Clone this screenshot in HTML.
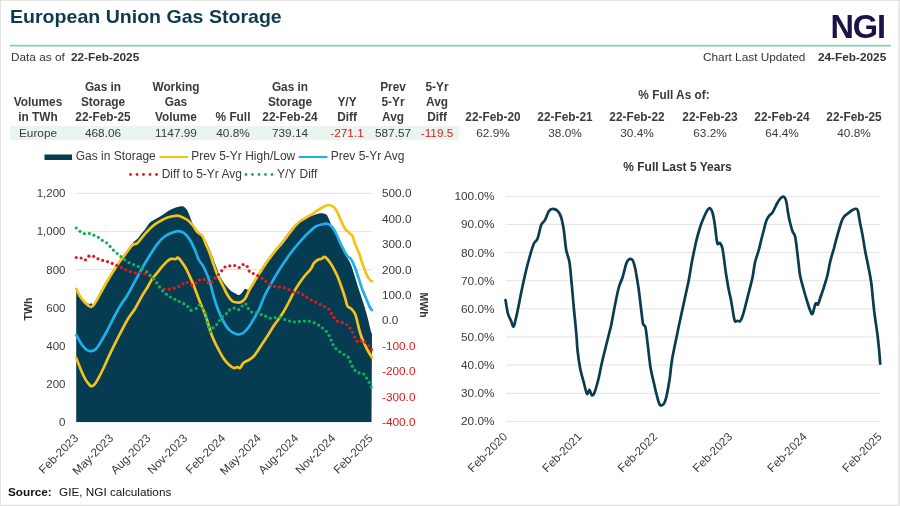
<!DOCTYPE html>
<html><head><meta charset="utf-8"><title>European Union Gas Storage</title>
<style>
html,body{margin:0;padding:0;background:#fff;}
body{width:900px;height:506px;position:relative;overflow:hidden;font-family:"Liberation Sans",Arial,sans-serif;color:#333;}
.t{position:absolute;white-space:nowrap;line-height:1;}
.c{transform:translateX(-50%);text-align:center;}
.b{font-weight:bold;}
.h{font-size:11.85px;font-weight:bold;color:#3a3a3a;line-height:15px;}
.v{font-size:11.8px;color:#3a3a3a;}
.red{color:#e02020;}
#title{left:10px;top:7.7px;font-size:18.6px;transform:scaleX(1.052);transform-origin:0 0;font-weight:bold;color:#0e3a4d;}
#band{position:absolute;left:10px;top:125.5px;width:449px;height:14px;background:#e9f5ee;}
svg{position:absolute;left:0;top:0;}
</style></head><body>
<div id="title" class="t">European Union Gas Storage</div>
<div id="logo" class="t" style="left:830.5px;top:10.8px;font-size:32.5px;font-weight:bold;color:#1a1446;letter-spacing:-1.1px;">NGI</div>
<div class="t" style="left:11px;top:52.1px;font-size:11.8px;">Data as of</div>
<div class="t b" style="left:71px;top:52.1px;font-size:11.8px;">22-Feb-2025</div>
<div class="t" style="left:703px;top:52.1px;font-size:11.8px;">Chart Last Updated</div>
<div class="t b" style="left:818px;top:52.1px;font-size:11.8px;">24-Feb-2025</div>
<div id="band"></div>

<div class="t c h" style="left:38px;top:94.75px;">Volumes<br>in TWh</div>
<div class="t c h" style="left:103px;top:79.75px;">Gas in<br>Storage<br>22-Feb-25</div>
<div class="t c h" style="left:176px;top:79.75px;">Working<br>Gas<br>Volume</div>
<div class="t c h" style="left:233px;top:109.75px;">% Full</div>
<div class="t c h" style="left:290px;top:79.75px;">Gas in<br>Storage<br>22-Feb-24</div>
<div class="t c h" style="left:347px;top:94.75px;">Y/Y<br>Diff</div>
<div class="t c h" style="left:393px;top:79.75px;">Prev<br>5-Yr<br>Avg</div>
<div class="t c h" style="left:437px;top:79.75px;">5-Yr<br>Avg<br>Diff</div>
<div class="t c h" style="left:674px;top:87.75px;">% Full As of:</div>
<div class="t c h" style="left:493px;top:109.75px;">22-Feb-20</div>
<div class="t c h" style="left:565px;top:109.75px;">22-Feb-21</div>
<div class="t c h" style="left:637px;top:109.75px;">22-Feb-22</div>
<div class="t c h" style="left:710px;top:109.75px;">22-Feb-23</div>
<div class="t c h" style="left:782px;top:109.75px;">22-Feb-24</div>
<div class="t c h" style="left:854px;top:109.75px;">22-Feb-25</div>

<div class="t c v" style="left:38px;top:127.5px;">Europe</div>
<div class="t c v" style="left:103px;top:127.5px;">468.06</div>
<div class="t c v" style="left:176px;top:127.5px;">1147.99</div>
<div class="t c v" style="left:233px;top:127.5px;">40.8%</div>
<div class="t c v" style="left:290px;top:127.5px;">739.14</div>
<div class="t c v red" style="left:347px;top:127.5px;">-271.1</div>
<div class="t c v" style="left:393px;top:127.5px;">587.57</div>
<div class="t c v red" style="left:437px;top:127.5px;">-119.5</div>
<div class="t c v" style="left:493px;top:127.5px;">62.9%</div>
<div class="t c v" style="left:565px;top:127.5px;">38.0%</div>
<div class="t c v" style="left:637px;top:127.5px;">30.4%</div>
<div class="t c v" style="left:710px;top:127.5px;">63.2%</div>
<div class="t c v" style="left:782px;top:127.5px;">64.4%</div>
<div class="t c v" style="left:854px;top:127.5px;">40.8%</div>

<div class="t b" style="left:8px;top:485.8px;font-size:11.75px;color:#111;">Source:</div>
<div class="t" style="left:59px;top:485.8px;font-size:11.75px;color:#111;">GIE, NGI calculations</div>

<svg id="chart" width="900" height="506" viewBox="0 0 900 506" font-family="Liberation Sans, Arial, sans-serif">
<g fill="#e3e3e3"><rect x="0" y="0" width="900" height="0.9"/><rect x="0" y="0" width="1" height="506"/><rect x="898.4" y="0" width="1.6" height="506"/><rect x="0" y="504.7" width="900" height="1.3"/></g>
<rect x="10" y="44.8" width="881" height="1.7" fill="#7fd0ac"/>
<line x1="76.0" x2="372.0" y1="193.3" y2="193.3" stroke="#e3e3e3" stroke-width="1"/>
<line x1="76.0" x2="372.0" y1="231.4" y2="231.4" stroke="#e3e3e3" stroke-width="1"/>
<line x1="76.0" x2="372.0" y1="269.5" y2="269.5" stroke="#e3e3e3" stroke-width="1"/>
<line x1="76.0" x2="372.0" y1="307.6" y2="307.6" stroke="#e3e3e3" stroke-width="1"/>
<line x1="76.0" x2="372.0" y1="345.7" y2="345.7" stroke="#e3e3e3" stroke-width="1"/>
<line x1="76.0" x2="372.0" y1="383.8" y2="383.8" stroke="#e3e3e3" stroke-width="1"/>
<line x1="76.0" x2="372.0" y1="421.9" y2="421.9" stroke="#e3e3e3" stroke-width="1"/>
<path d="M76.2,288.0 C76.9,289.2 78.5,293.2 80.0,295.5 C81.5,297.8 83.4,300.1 85.0,301.5 C86.6,302.9 88.5,303.8 89.5,304.0 C90.5,304.2 90.7,302.8 91.2,303.0 C91.8,303.2 92.4,305.7 93.0,305.5 C93.6,305.3 94.2,303.2 95.0,302.0 C95.8,300.8 95.8,301.0 97.5,298.0 C99.2,295.0 102.5,288.6 105.0,284.2 C107.5,279.9 110.0,275.7 112.5,271.8 C115.0,267.8 117.5,264.1 120.0,260.5 C122.5,256.9 125.4,252.9 127.5,250.0 C129.6,247.1 130.8,244.9 132.5,243.0 C134.2,241.1 136.0,240.3 137.5,238.8 C139.0,237.2 140.0,235.3 141.2,233.8 C142.5,232.2 143.5,231.4 145.0,229.5 C146.5,227.6 148.1,224.3 150.0,222.5 C151.9,220.7 154.2,220.0 156.2,218.8 C158.3,217.5 160.2,216.5 162.5,215.0 C164.8,213.5 167.5,211.3 170.0,210.0 C172.5,208.7 175.4,207.6 177.5,207.0 C179.6,206.4 181.0,206.0 182.5,206.2 C184.0,206.5 185.2,207.5 186.2,208.8 C187.3,210.0 187.9,211.9 188.8,213.8 C189.6,215.6 190.2,217.5 191.2,220.0 C192.3,222.5 193.8,226.8 195.0,228.8 C196.2,230.8 197.5,231.0 198.8,232.0 C200.0,233.0 201.2,233.2 202.5,235.0 C203.8,236.8 205.4,240.3 206.8,243.0 C208.1,245.7 209.2,248.2 210.5,251.2 C211.8,254.3 213.0,257.9 214.2,261.2 C215.5,264.6 217.0,268.5 218.0,271.2 C219.0,274.0 219.2,275.2 220.5,277.5 C221.8,279.8 223.8,282.8 225.5,285.0 C227.2,287.2 228.9,289.1 230.5,290.5 C232.1,291.9 233.5,292.5 235.0,293.2 C236.5,294.0 238.0,295.2 239.2,295.0 C240.5,294.8 241.5,293.0 242.5,292.0 C243.5,291.0 244.0,289.2 245.0,288.8 C246.0,288.3 247.5,290.5 248.8,289.5 C250.0,288.5 250.8,286.0 252.5,283.0 C254.2,280.0 256.9,275.5 259.2,271.8 C261.6,268.0 264.2,264.0 266.8,260.5 C269.2,257.0 271.8,253.7 274.2,250.5 C276.8,247.3 279.2,244.7 281.8,241.5 C284.2,238.3 287.0,234.3 289.2,231.5 C291.5,228.7 292.8,226.5 295.0,224.5 C297.2,222.5 300.0,220.8 302.5,219.5 C305.0,218.2 307.7,217.4 310.0,216.5 C312.3,215.6 314.4,214.8 316.2,214.2 C318.1,213.7 319.6,213.2 321.2,213.2 C322.9,213.3 325.0,213.6 326.2,214.5 C327.5,215.4 327.9,217.0 328.8,218.8 C329.6,220.5 330.4,223.3 331.2,225.0 C332.1,226.7 332.9,227.3 333.8,228.8 C334.6,230.2 335.4,231.7 336.2,233.8 C337.1,235.8 337.7,238.8 338.8,241.2 C339.8,243.8 341.2,246.2 342.5,248.8 C343.8,251.2 345.0,254.0 346.2,256.2 C347.5,258.5 348.7,259.6 350.0,262.5 C351.3,265.4 352.6,269.4 354.0,273.7 C355.4,278.0 357.0,283.8 358.5,288.5 C360.0,293.2 361.5,297.2 363.0,301.9 C364.5,306.6 366.1,311.8 367.4,316.7 C368.7,321.6 370.2,328.7 371.0,331.5 C371.8,334.3 371.8,333.4 372.0,333.8 L371.5,421.9 L76.2,421.9 Z" fill="#063c52"/>
<path d="M76.2,288.8 C76.9,290.0 78.5,294.0 80.0,296.2 C81.5,298.5 83.1,300.7 85.0,302.5 C86.9,304.3 89.6,306.9 91.2,307.0 C92.9,307.1 94.0,304.4 95.0,303.0 C96.0,301.6 95.8,301.8 97.5,298.8 C99.2,295.8 102.5,289.4 105.0,285.0 C107.5,280.6 110.0,276.5 112.5,272.5 C115.0,268.5 117.5,264.8 120.0,261.2 C122.5,257.7 125.4,254.0 127.5,251.2 C129.6,248.5 130.8,246.4 132.5,245.0 C134.2,243.6 135.4,244.9 137.5,243.0 C139.6,241.1 142.5,236.5 145.0,233.8 C147.5,231.0 150.0,228.3 152.5,226.2 C155.0,224.2 157.5,222.7 160.0,221.2 C162.5,219.8 165.0,218.4 167.5,217.5 C170.0,216.6 172.9,216.0 175.0,215.8 C177.1,215.5 177.9,215.5 180.0,216.2 C182.1,217.0 185.4,218.5 187.5,220.0 C189.6,221.5 190.8,223.0 192.5,225.0 C194.2,227.0 195.8,230.1 197.5,232.0 C199.2,233.9 201.0,234.1 202.5,236.2 C204.0,238.4 205.0,242.1 206.2,245.0 C207.5,247.9 208.8,250.4 210.0,253.8 C211.2,257.1 212.5,261.5 213.8,265.0 C215.0,268.5 216.0,271.7 217.5,275.0 C219.0,278.3 220.8,281.7 222.5,285.0 C224.2,288.3 225.8,292.3 227.5,295.0 C229.2,297.7 230.8,300.0 232.5,301.2 C234.2,302.5 236.0,302.4 237.5,302.5 C239.0,302.6 240.0,302.6 241.2,302.0 C242.5,301.4 243.8,300.5 245.0,298.8 C246.2,297.0 247.3,294.0 248.8,291.2 C250.2,288.5 251.9,285.6 253.8,282.5 C255.6,279.4 257.7,276.0 260.0,272.5 C262.3,269.0 265.0,264.8 267.5,261.2 C270.0,257.7 272.5,254.4 275.0,251.2 C277.5,248.1 280.0,245.6 282.5,242.5 C285.0,239.4 287.9,235.2 290.0,232.5 C292.1,229.8 293.3,228.1 295.0,226.2 C296.7,224.4 298.1,222.7 300.0,221.2 C301.9,219.8 304.2,218.8 306.2,217.5 C308.3,216.2 310.4,215.1 312.5,213.8 C314.6,212.4 316.7,210.8 318.8,209.5 C320.8,208.2 323.3,207.0 325.0,206.2 C326.7,205.5 327.3,204.9 328.8,205.0 C330.2,205.1 332.3,205.8 333.8,207.0 C335.2,208.2 336.2,210.1 337.5,212.5 C338.8,214.9 340.0,218.5 341.2,221.2 C342.5,224.0 343.8,226.9 345.0,228.8 C346.2,230.6 347.5,231.2 348.8,232.5 C350.0,233.8 351.5,234.4 352.5,236.2 C353.5,238.1 354.0,241.0 355.0,243.8 C356.0,246.5 357.5,249.2 358.8,252.5 C360.0,255.8 361.2,260.2 362.5,263.8 C363.8,267.3 365.0,271.0 366.2,273.8 C367.5,276.5 369.0,278.8 370.0,280.0 C371.0,281.2 371.7,281.0 372.0,281.2" fill="none" stroke="#f5c218" stroke-width="2.7" stroke-linejoin="round" stroke-linecap="round"/>
<path d="M76.2,358.0 C76.9,359.6 78.8,364.5 80.0,367.5 C81.2,370.5 82.5,373.8 83.8,376.2 C85.0,378.8 86.2,380.8 87.5,382.5 C88.8,384.2 90.0,386.0 91.2,386.2 C92.5,386.5 93.8,385.2 95.0,383.8 C96.2,382.3 97.3,380.2 98.8,377.5 C100.2,374.8 101.9,371.5 103.8,367.5 C105.6,363.5 107.9,358.1 110.0,353.8 C112.1,349.4 114.2,345.4 116.2,341.2 C118.3,337.1 120.4,332.7 122.5,328.8 C124.6,324.8 126.7,320.8 128.8,317.5 C130.8,314.2 132.8,312.4 135.0,308.8 C137.2,305.1 140.1,299.3 142.2,295.6 C144.3,291.9 146.1,289.5 147.8,286.7 C149.5,283.9 150.7,281.1 152.2,278.9 C153.7,276.7 155.1,275.2 156.7,273.3 C158.3,271.4 160.0,269.1 161.7,267.2 C163.4,265.3 165.1,263.1 166.7,261.7 C168.3,260.3 169.6,259.3 171.1,258.9 C172.6,258.5 174.5,259.3 175.6,259.1 C176.7,258.9 176.9,257.3 177.8,257.6 C178.7,257.9 179.8,259.4 181.1,261.1 C182.4,262.8 184.2,265.4 185.6,267.8 C187.0,270.2 188.1,272.8 189.4,275.6 C190.7,278.4 192.1,281.4 193.3,284.4 C194.5,287.3 195.6,290.4 196.7,293.3 C197.8,296.2 198.4,298.0 200.0,302.0 C201.6,306.0 204.6,312.8 206.2,317.5 C207.9,322.2 208.8,326.2 210.0,330.0 C211.2,333.8 212.3,336.7 213.8,340.0 C215.2,343.3 217.1,346.9 218.8,350.0 C220.4,353.1 222.1,356.3 223.8,358.8 C225.4,361.2 227.1,363.0 228.8,364.5 C230.4,366.0 232.3,367.6 233.8,368.0 C235.2,368.4 236.5,367.0 237.5,367.0 C238.5,367.0 239.0,368.8 240.0,368.0 C241.0,367.2 242.3,363.8 243.8,362.5 C245.2,361.2 247.1,361.0 248.8,360.0 C250.4,359.0 252.4,357.5 253.8,356.2 C255.1,355.0 255.1,354.6 256.7,352.3 C258.3,350.0 261.2,345.5 263.3,342.3 C265.4,339.1 267.2,336.2 269.2,333.2 C271.1,330.1 273.2,326.6 275.0,324.0 C276.8,321.4 278.5,319.5 280.0,317.3 C281.5,315.1 282.7,313.3 284.2,310.7 C285.7,308.1 287.7,304.4 289.2,301.5 C290.7,298.6 291.8,296.0 293.3,293.2 C294.8,290.4 296.5,287.6 298.3,284.8 C300.1,282.0 302.1,279.1 304.2,276.5 C306.3,273.9 309.2,271.2 310.8,269.0 C312.4,266.8 312.7,264.8 313.8,263.3 C314.9,261.8 316.2,260.8 317.5,260.0 C318.8,259.2 320.4,259.2 321.7,258.7 C322.9,258.2 323.6,256.4 325.0,257.0 C326.4,257.6 328.5,260.5 330.0,262.5 C331.5,264.5 332.5,266.5 333.8,268.8 C335.0,271.0 336.2,273.3 337.5,276.2 C338.8,279.2 340.0,282.7 341.2,286.2 C342.5,289.8 344.0,294.2 345.0,297.5 C346.0,300.8 346.5,304.4 347.5,306.2 C348.5,308.1 350.0,307.5 351.2,308.8 C352.5,310.0 354.0,311.5 355.0,313.8 C356.0,316.0 356.7,319.4 357.5,322.5 C358.3,325.6 359.0,329.2 360.0,332.5 C361.0,335.8 362.5,339.6 363.8,342.5 C365.0,345.4 366.1,347.5 367.5,350.0 C368.9,352.5 371.2,356.2 372.0,357.5" fill="none" stroke="#f5c218" stroke-width="2.7" stroke-linejoin="round" stroke-linecap="round"/>
<path d="M76.2,335.0 C77.1,336.5 79.6,341.3 81.2,343.8 C82.9,346.2 84.6,348.2 86.2,349.5 C87.9,350.8 89.6,351.4 91.2,351.2 C92.9,351.1 94.6,350.4 96.2,348.8 C97.9,347.1 99.4,344.4 101.2,341.2 C103.1,338.1 105.4,334.0 107.5,330.0 C109.6,326.0 111.7,321.5 113.8,317.5 C115.8,313.5 117.7,310.0 120.0,306.2 C122.3,302.5 125.0,299.2 127.5,295.0 C130.0,290.8 132.5,285.8 135.0,281.2 C137.5,276.7 140.0,271.9 142.5,267.5 C145.0,263.1 147.5,259.0 150.0,255.0 C152.5,251.0 155.0,246.9 157.5,243.8 C160.0,240.6 162.5,238.1 165.0,236.2 C167.5,234.4 170.2,233.3 172.5,232.5 C174.8,231.7 176.7,231.0 178.8,231.2 C180.8,231.5 183.1,232.3 185.0,233.8 C186.9,235.2 188.3,237.3 190.0,240.0 C191.7,242.7 193.5,246.7 195.0,250.0 C196.5,253.3 197.5,257.5 198.8,260.0 C200.0,262.5 201.2,262.9 202.5,265.0 C203.8,267.1 205.0,269.6 206.2,272.5 C207.5,275.4 208.7,278.4 210.0,282.5 C211.3,286.6 212.5,292.5 213.8,296.9 C215.1,301.3 216.2,305.0 217.8,309.0 C219.4,313.0 221.4,317.6 223.2,321.0 C225.0,324.4 227.0,327.5 228.8,329.5 C230.5,331.5 232.1,332.2 233.8,333.0 C235.4,333.8 237.1,334.6 238.8,334.5 C240.4,334.4 242.1,333.8 243.8,332.5 C245.4,331.2 247.1,329.3 248.8,327.0 C250.4,324.7 252.1,321.6 253.8,318.8 C255.4,315.9 256.9,314.0 258.8,310.0 C260.6,306.0 262.7,299.8 265.0,295.0 C267.3,290.2 270.0,285.6 272.5,281.2 C275.0,276.9 277.5,272.7 280.0,268.8 C282.5,264.8 285.0,261.0 287.5,257.5 C290.0,254.0 292.5,250.6 295.0,247.5 C297.5,244.4 300.0,241.5 302.5,238.8 C305.0,236.0 307.7,233.3 310.0,231.2 C312.3,229.2 314.2,227.4 316.2,226.2 C318.3,225.1 320.6,224.7 322.5,224.2 C324.4,223.8 325.8,223.2 327.5,223.8 C329.2,224.3 331.0,225.8 332.5,227.5 C334.0,229.2 335.0,231.2 336.2,233.8 C337.5,236.2 338.8,239.8 340.0,242.5 C341.2,245.2 342.5,247.7 343.8,250.0 C345.0,252.3 346.2,254.7 347.5,256.2 C348.8,257.8 350.0,257.6 351.2,259.5 C352.5,261.4 353.8,264.3 355.0,267.5 C356.2,270.7 357.5,275.0 358.8,278.8 C360.0,282.5 361.2,286.7 362.5,290.0 C363.8,293.3 365.0,295.8 366.2,298.8 C367.5,301.7 369.0,305.6 370.0,307.5 C371.0,309.4 371.7,309.6 372.0,310.0" fill="none" stroke="#1fb0ea" stroke-width="2.7" stroke-linejoin="round" stroke-linecap="round"/>
<circle cx="76.2" cy="257.5" r="1.6" fill="#e01a1a"/>
<circle cx="81.1" cy="258.0" r="1.6" fill="#e01a1a"/>
<circle cx="85.5" cy="259.8" r="1.6" fill="#e01a1a"/>
<circle cx="88.9" cy="256.2" r="1.6" fill="#e01a1a"/>
<circle cx="93.7" cy="256.3" r="1.6" fill="#e01a1a"/>
<circle cx="98.0" cy="258.8" r="1.6" fill="#e01a1a"/>
<circle cx="102.7" cy="260.4" r="1.6" fill="#e01a1a"/>
<circle cx="107.5" cy="261.7" r="1.6" fill="#e01a1a"/>
<circle cx="112.2" cy="263.4" r="1.6" fill="#e01a1a"/>
<circle cx="116.8" cy="265.3" r="1.6" fill="#e01a1a"/>
<circle cx="121.3" cy="267.5" r="1.6" fill="#e01a1a"/>
<circle cx="125.8" cy="269.8" r="1.6" fill="#e01a1a"/>
<circle cx="130.4" cy="271.7" r="1.6" fill="#e01a1a"/>
<circle cx="135.2" cy="273.0" r="1.6" fill="#e01a1a"/>
<circle cx="140.2" cy="273.0" r="1.6" fill="#e01a1a"/>
<circle cx="145.1" cy="273.8" r="1.6" fill="#e01a1a"/>
<circle cx="149.6" cy="276.0" r="1.6" fill="#e01a1a"/>
<circle cx="153.8" cy="278.8" r="1.6" fill="#e01a1a"/>
<circle cx="156.7" cy="282.8" r="1.6" fill="#e01a1a"/>
<circle cx="160.0" cy="286.5" r="1.6" fill="#e01a1a"/>
<circle cx="164.3" cy="289.0" r="1.6" fill="#e01a1a"/>
<circle cx="169.2" cy="289.2" r="1.6" fill="#e01a1a"/>
<circle cx="174.1" cy="288.2" r="1.6" fill="#e01a1a"/>
<circle cx="178.8" cy="286.4" r="1.6" fill="#e01a1a"/>
<circle cx="183.0" cy="283.8" r="1.6" fill="#e01a1a"/>
<circle cx="187.4" cy="282.4" r="1.6" fill="#e01a1a"/>
<circle cx="191.6" cy="285.1" r="1.6" fill="#e01a1a"/>
<circle cx="195.7" cy="283.1" r="1.6" fill="#e01a1a"/>
<circle cx="199.5" cy="279.9" r="1.6" fill="#e01a1a"/>
<circle cx="204.1" cy="279.4" r="1.6" fill="#e01a1a"/>
<circle cx="207.9" cy="282.7" r="1.6" fill="#e01a1a"/>
<circle cx="211.8" cy="282.1" r="1.6" fill="#e01a1a"/>
<circle cx="215.0" cy="278.2" r="1.6" fill="#e01a1a"/>
<circle cx="218.4" cy="274.5" r="1.6" fill="#e01a1a"/>
<circle cx="221.7" cy="270.8" r="1.6" fill="#e01a1a"/>
<circle cx="225.0" cy="267.0" r="1.6" fill="#e01a1a"/>
<circle cx="229.8" cy="265.8" r="1.6" fill="#e01a1a"/>
<circle cx="234.7" cy="265.5" r="1.6" fill="#e01a1a"/>
<circle cx="239.2" cy="267.5" r="1.6" fill="#e01a1a"/>
<circle cx="243.1" cy="264.5" r="1.6" fill="#e01a1a"/>
<circle cx="247.2" cy="266.5" r="1.6" fill="#e01a1a"/>
<circle cx="249.1" cy="271.1" r="1.6" fill="#e01a1a"/>
<circle cx="253.3" cy="273.5" r="1.6" fill="#e01a1a"/>
<circle cx="257.8" cy="275.7" r="1.6" fill="#e01a1a"/>
<circle cx="262.0" cy="278.3" r="1.6" fill="#e01a1a"/>
<circle cx="265.9" cy="281.4" r="1.6" fill="#e01a1a"/>
<circle cx="269.9" cy="284.5" r="1.6" fill="#e01a1a"/>
<circle cx="274.5" cy="286.4" r="1.6" fill="#e01a1a"/>
<circle cx="279.4" cy="287.1" r="1.6" fill="#e01a1a"/>
<circle cx="284.4" cy="287.7" r="1.6" fill="#e01a1a"/>
<circle cx="289.0" cy="289.6" r="1.6" fill="#e01a1a"/>
<circle cx="293.4" cy="291.9" r="1.6" fill="#e01a1a"/>
<circle cx="298.4" cy="292.4" r="1.6" fill="#e01a1a"/>
<circle cx="302.9" cy="294.5" r="1.6" fill="#e01a1a"/>
<circle cx="306.9" cy="297.4" r="1.6" fill="#e01a1a"/>
<circle cx="311.2" cy="300.0" r="1.6" fill="#e01a1a"/>
<circle cx="315.7" cy="302.2" r="1.6" fill="#e01a1a"/>
<circle cx="320.1" cy="304.4" r="1.6" fill="#e01a1a"/>
<circle cx="324.6" cy="306.6" r="1.6" fill="#e01a1a"/>
<circle cx="329.0" cy="309.0" r="1.6" fill="#e01a1a"/>
<circle cx="331.3" cy="313.4" r="1.6" fill="#e01a1a"/>
<circle cx="334.0" cy="317.6" r="1.6" fill="#e01a1a"/>
<circle cx="337.4" cy="321.2" r="1.6" fill="#e01a1a"/>
<circle cx="342.2" cy="322.4" r="1.6" fill="#e01a1a"/>
<circle cx="346.8" cy="324.5" r="1.6" fill="#e01a1a"/>
<circle cx="350.1" cy="328.1" r="1.6" fill="#e01a1a"/>
<circle cx="352.5" cy="332.5" r="1.6" fill="#e01a1a"/>
<circle cx="354.7" cy="337.0" r="1.6" fill="#e01a1a"/>
<circle cx="357.3" cy="341.3" r="1.6" fill="#e01a1a"/>
<circle cx="361.1" cy="340.8" r="1.6" fill="#e01a1a"/>
<circle cx="365.0" cy="342.2" r="1.6" fill="#e01a1a"/>
<circle cx="368.4" cy="345.8" r="1.6" fill="#e01a1a"/>
<circle cx="371.5" cy="349.7" r="1.6" fill="#e01a1a"/>
<circle cx="76.2" cy="228.0" r="1.6" fill="#14b05a"/>
<circle cx="80.0" cy="231.3" r="1.6" fill="#14b05a"/>
<circle cx="84.4" cy="233.7" r="1.6" fill="#14b05a"/>
<circle cx="89.3" cy="233.4" r="1.6" fill="#14b05a"/>
<circle cx="93.9" cy="235.2" r="1.6" fill="#14b05a"/>
<circle cx="98.4" cy="237.3" r="1.6" fill="#14b05a"/>
<circle cx="102.3" cy="240.4" r="1.6" fill="#14b05a"/>
<circle cx="106.6" cy="242.8" r="1.6" fill="#14b05a"/>
<circle cx="110.1" cy="246.4" r="1.6" fill="#14b05a"/>
<circle cx="113.4" cy="250.2" r="1.6" fill="#14b05a"/>
<circle cx="117.2" cy="253.5" r="1.6" fill="#14b05a"/>
<circle cx="120.9" cy="256.7" r="1.6" fill="#14b05a"/>
<circle cx="124.8" cy="259.9" r="1.6" fill="#14b05a"/>
<circle cx="129.0" cy="262.6" r="1.6" fill="#14b05a"/>
<circle cx="133.6" cy="264.7" r="1.6" fill="#14b05a"/>
<circle cx="138.2" cy="266.6" r="1.6" fill="#14b05a"/>
<circle cx="142.6" cy="268.8" r="1.6" fill="#14b05a"/>
<circle cx="146.7" cy="271.7" r="1.6" fill="#14b05a"/>
<circle cx="150.2" cy="275.2" r="1.6" fill="#14b05a"/>
<circle cx="153.8" cy="278.8" r="1.6" fill="#14b05a"/>
<circle cx="156.8" cy="282.8" r="1.6" fill="#14b05a"/>
<circle cx="159.4" cy="287.0" r="1.6" fill="#14b05a"/>
<circle cx="162.6" cy="290.8" r="1.6" fill="#14b05a"/>
<circle cx="166.3" cy="294.2" r="1.6" fill="#14b05a"/>
<circle cx="170.4" cy="297.0" r="1.6" fill="#14b05a"/>
<circle cx="174.9" cy="299.3" r="1.6" fill="#14b05a"/>
<circle cx="179.4" cy="301.5" r="1.6" fill="#14b05a"/>
<circle cx="183.8" cy="303.7" r="1.6" fill="#14b05a"/>
<circle cx="187.9" cy="306.6" r="1.6" fill="#14b05a"/>
<circle cx="191.1" cy="310.4" r="1.6" fill="#14b05a"/>
<circle cx="196.3" cy="308.3" r="1.6" fill="#14b05a"/>
<circle cx="199.3" cy="304.8" r="1.6" fill="#14b05a"/>
<circle cx="202.6" cy="308.4" r="1.6" fill="#14b05a"/>
<circle cx="205.1" cy="312.8" r="1.6" fill="#14b05a"/>
<circle cx="206.1" cy="317.6" r="1.6" fill="#14b05a"/>
<circle cx="207.0" cy="322.5" r="1.6" fill="#14b05a"/>
<circle cx="208.6" cy="327.2" r="1.6" fill="#14b05a"/>
<circle cx="210.3" cy="331.8" r="1.6" fill="#14b05a"/>
<circle cx="212.9" cy="327.7" r="1.6" fill="#14b05a"/>
<circle cx="216.7" cy="324.6" r="1.6" fill="#14b05a"/>
<circle cx="219.4" cy="320.5" r="1.6" fill="#14b05a"/>
<circle cx="222.4" cy="316.7" r="1.6" fill="#14b05a"/>
<circle cx="226.4" cy="313.7" r="1.6" fill="#14b05a"/>
<circle cx="229.6" cy="309.9" r="1.6" fill="#14b05a"/>
<circle cx="234.1" cy="308.0" r="1.6" fill="#14b05a"/>
<circle cx="238.7" cy="309.6" r="1.6" fill="#14b05a"/>
<circle cx="242.2" cy="306.1" r="1.6" fill="#14b05a"/>
<circle cx="245.9" cy="304.1" r="1.6" fill="#14b05a"/>
<circle cx="248.3" cy="308.4" r="1.6" fill="#14b05a"/>
<circle cx="251.7" cy="312.1" r="1.6" fill="#14b05a"/>
<circle cx="256.6" cy="312.3" r="1.6" fill="#14b05a"/>
<circle cx="261.1" cy="314.5" r="1.6" fill="#14b05a"/>
<circle cx="265.7" cy="316.2" r="1.6" fill="#14b05a"/>
<circle cx="270.2" cy="318.2" r="1.6" fill="#14b05a"/>
<circle cx="275.2" cy="317.6" r="1.6" fill="#14b05a"/>
<circle cx="280.1" cy="317.6" r="1.6" fill="#14b05a"/>
<circle cx="284.7" cy="319.5" r="1.6" fill="#14b05a"/>
<circle cx="289.5" cy="321.0" r="1.6" fill="#14b05a"/>
<circle cx="294.4" cy="321.8" r="1.6" fill="#14b05a"/>
<circle cx="299.4" cy="321.4" r="1.6" fill="#14b05a"/>
<circle cx="304.4" cy="321.1" r="1.6" fill="#14b05a"/>
<circle cx="309.4" cy="321.3" r="1.6" fill="#14b05a"/>
<circle cx="314.2" cy="322.7" r="1.6" fill="#14b05a"/>
<circle cx="318.6" cy="325.1" r="1.6" fill="#14b05a"/>
<circle cx="322.6" cy="328.0" r="1.6" fill="#14b05a"/>
<circle cx="326.3" cy="331.3" r="1.6" fill="#14b05a"/>
<circle cx="329.0" cy="335.5" r="1.6" fill="#14b05a"/>
<circle cx="331.1" cy="340.1" r="1.6" fill="#14b05a"/>
<circle cx="333.0" cy="344.7" r="1.6" fill="#14b05a"/>
<circle cx="335.9" cy="348.7" r="1.6" fill="#14b05a"/>
<circle cx="339.8" cy="351.8" r="1.6" fill="#14b05a"/>
<circle cx="344.0" cy="354.5" r="1.6" fill="#14b05a"/>
<circle cx="348.2" cy="357.1" r="1.6" fill="#14b05a"/>
<circle cx="350.2" cy="361.6" r="1.6" fill="#14b05a"/>
<circle cx="352.3" cy="366.2" r="1.6" fill="#14b05a"/>
<circle cx="355.0" cy="370.4" r="1.6" fill="#14b05a"/>
<circle cx="359.1" cy="372.8" r="1.6" fill="#14b05a"/>
<circle cx="363.7" cy="374.0" r="1.6" fill="#14b05a"/>
<circle cx="366.6" cy="378.1" r="1.6" fill="#14b05a"/>
<circle cx="369.2" cy="382.3" r="1.6" fill="#14b05a"/>
<circle cx="371.3" cy="386.9" r="1.6" fill="#14b05a"/>
<text x="65.5" y="197.3" text-anchor="end" font-size="11.5" fill="#3a3a3a">1,200</text>
<text x="65.5" y="235.4" text-anchor="end" font-size="11.5" fill="#3a3a3a">1,000</text>
<text x="65.5" y="273.5" text-anchor="end" font-size="11.5" fill="#3a3a3a">800</text>
<text x="65.5" y="311.6" text-anchor="end" font-size="11.5" fill="#3a3a3a">600</text>
<text x="65.5" y="349.7" text-anchor="end" font-size="11.5" fill="#3a3a3a">400</text>
<text x="65.5" y="387.8" text-anchor="end" font-size="11.5" fill="#3a3a3a">200</text>
<text x="65.5" y="425.9" text-anchor="end" font-size="11.5" fill="#3a3a3a">0</text>
<text x="382" y="197.3" font-size="11.8" fill="#3a3a3a">500.0</text>
<text x="382" y="222.7" font-size="11.8" fill="#3a3a3a">400.0</text>
<text x="382" y="248.1" font-size="11.8" fill="#3a3a3a">300.0</text>
<text x="382" y="273.5" font-size="11.8" fill="#3a3a3a">200.0</text>
<text x="382" y="298.9" font-size="11.8" fill="#3a3a3a">100.0</text>
<text x="382" y="324.3" font-size="11.8" fill="#3a3a3a">0.0</text>
<text x="382" y="349.7" font-size="11.8" fill="#e01a1a">-100.0</text>
<text x="382" y="375.1" font-size="11.8" fill="#e01a1a">-200.0</text>
<text x="382" y="400.5" font-size="11.8" fill="#e01a1a">-300.0</text>
<text x="382" y="425.9" font-size="11.8" fill="#e01a1a">-400.0</text>
<text transform="translate(32,309) rotate(-90)" text-anchor="middle" font-size="10.5" font-weight="bold" fill="#333">TWh</text>
<text transform="translate(420,305) rotate(90)" text-anchor="middle" font-size="10.5" font-weight="bold" fill="#333">MWh</text>
<text transform="translate(79,439) rotate(-45)" text-anchor="end" font-size="11.7" fill="#3a3a3a">Feb-2023</text>
<text transform="translate(114,439) rotate(-45)" text-anchor="end" font-size="11.7" fill="#3a3a3a">May-2023</text>
<text transform="translate(151.4,439) rotate(-45)" text-anchor="end" font-size="11.7" fill="#3a3a3a">Aug-2023</text>
<text transform="translate(188,439) rotate(-45)" text-anchor="end" font-size="11.7" fill="#3a3a3a">Nov-2023</text>
<text transform="translate(226,439) rotate(-45)" text-anchor="end" font-size="11.7" fill="#3a3a3a">Feb-2024</text>
<text transform="translate(261.6,439) rotate(-45)" text-anchor="end" font-size="11.7" fill="#3a3a3a">May-2024</text>
<text transform="translate(299,439) rotate(-45)" text-anchor="end" font-size="11.7" fill="#3a3a3a">Aug-2024</text>
<text transform="translate(336,439) rotate(-45)" text-anchor="end" font-size="11.7" fill="#3a3a3a">Nov-2024</text>
<text transform="translate(373.6,439) rotate(-45)" text-anchor="end" font-size="11.7" fill="#3a3a3a">Feb-2025</text>
<rect x="44.5" y="154.5" width="27.5" height="5.5" fill="#063c52"/>
<text x="75.7" y="160" font-size="12" fill="#3a3a3a">Gas in Storage</text>
<line x1="159.5" x2="188" y1="157" y2="157" stroke="#f5c218" stroke-width="2.1"/>
<text x="191.2" y="160" font-size="12" fill="#3a3a3a">Prev 5-Yr High/Low</text>
<line x1="298.7" x2="327.5" y1="157" y2="157" stroke="#1fb0ea" stroke-width="2.1"/>
<text x="330.7" y="160" font-size="12" fill="#3a3a3a">Prev 5-Yr Avg</text>
<circle cx="130.5" cy="174.5" r="1.4" fill="#e01a1a"/>
<circle cx="246.0" cy="174.5" r="1.4" fill="#14b05a"/>
<circle cx="137.0" cy="174.5" r="1.4" fill="#e01a1a"/>
<circle cx="252.5" cy="174.5" r="1.4" fill="#14b05a"/>
<circle cx="143.5" cy="174.5" r="1.4" fill="#e01a1a"/>
<circle cx="259.0" cy="174.5" r="1.4" fill="#14b05a"/>
<circle cx="150.0" cy="174.5" r="1.4" fill="#e01a1a"/>
<circle cx="265.5" cy="174.5" r="1.4" fill="#14b05a"/>
<circle cx="156.5" cy="174.5" r="1.4" fill="#e01a1a"/>
<circle cx="272.0" cy="174.5" r="1.4" fill="#14b05a"/>
<text x="161.7" y="178" font-size="12" fill="#3a3a3a">Diff to 5-Yr Avg</text>
<text x="277" y="178" font-size="12" fill="#3a3a3a">Y/Y Diff</text>
<line x1="506.0" x2="880.0" y1="196.3" y2="196.3" stroke="#e3e3e3" stroke-width="1"/>
<text x="494.5" y="200.3" text-anchor="end" font-size="11.8" fill="#3a3a3a">100.0%</text>
<line x1="506.0" x2="880.0" y1="224.4" y2="224.4" stroke="#e3e3e3" stroke-width="1"/>
<text x="494.5" y="228.4" text-anchor="end" font-size="11.8" fill="#3a3a3a">90.0%</text>
<line x1="506.0" x2="880.0" y1="252.6" y2="252.6" stroke="#e3e3e3" stroke-width="1"/>
<text x="494.5" y="256.6" text-anchor="end" font-size="11.8" fill="#3a3a3a">80.0%</text>
<line x1="506.0" x2="880.0" y1="280.7" y2="280.7" stroke="#e3e3e3" stroke-width="1"/>
<text x="494.5" y="284.7" text-anchor="end" font-size="11.8" fill="#3a3a3a">70.0%</text>
<line x1="506.0" x2="880.0" y1="308.9" y2="308.9" stroke="#e3e3e3" stroke-width="1"/>
<text x="494.5" y="312.9" text-anchor="end" font-size="11.8" fill="#3a3a3a">60.0%</text>
<line x1="506.0" x2="880.0" y1="337.0" y2="337.0" stroke="#e3e3e3" stroke-width="1"/>
<text x="494.5" y="341.0" text-anchor="end" font-size="11.8" fill="#3a3a3a">50.0%</text>
<line x1="506.0" x2="880.0" y1="365.1" y2="365.1" stroke="#e3e3e3" stroke-width="1"/>
<text x="494.5" y="369.1" text-anchor="end" font-size="11.8" fill="#3a3a3a">40.0%</text>
<line x1="506.0" x2="880.0" y1="393.3" y2="393.3" stroke="#e3e3e3" stroke-width="1"/>
<text x="494.5" y="397.3" text-anchor="end" font-size="11.8" fill="#3a3a3a">30.0%</text>
<line x1="506.0" x2="880.0" y1="421.4" y2="421.4" stroke="#e3e3e3" stroke-width="1"/>
<text x="494.5" y="425.4" text-anchor="end" font-size="11.8" fill="#3a3a3a">20.0%</text>
<path d="M505.5,300.0 C505.9,302.3 507.0,310.2 508.0,313.8 C509.0,317.3 510.3,319.2 511.2,321.2 C512.2,323.3 512.7,327.9 513.8,326.2 C514.8,324.6 516.2,316.9 517.5,311.2 C518.8,305.6 520.0,298.5 521.2,292.5 C522.5,286.5 523.8,280.4 525.0,275.0 C526.2,269.6 527.3,265.2 528.8,260.0 C530.2,254.8 532.3,247.3 533.8,243.8 C535.2,240.2 536.2,241.9 537.5,238.8 C538.8,235.6 540.0,228.1 541.2,225.0 C542.5,221.9 543.8,222.3 545.0,220.0 C546.2,217.7 547.5,213.1 548.8,211.2 C550.0,209.4 551.0,208.8 552.5,208.8 C554.0,208.7 556.0,209.3 557.5,210.8 C559.0,212.2 560.2,214.3 561.2,217.5 C562.3,220.7 562.9,224.6 563.8,230.0 C564.6,235.4 565.3,244.6 566.2,250.0 C567.2,255.4 568.6,256.7 569.5,262.5 C570.4,268.3 571.0,277.5 571.8,285.0 C572.5,292.5 573.0,299.6 573.8,307.5 C574.5,315.4 575.6,325.4 576.2,332.5 C576.9,339.6 576.9,344.2 577.5,350.0 C578.1,355.8 579.0,362.1 580.0,367.5 C581.0,372.9 582.6,378.1 583.8,382.5 C584.9,386.9 586.0,392.5 587.0,393.8 C588.0,395.0 588.7,389.7 589.5,390.0 C590.3,390.3 591.1,395.3 592.0,395.5 C592.9,395.7 593.9,394.2 595.0,391.2 C596.1,388.2 597.5,382.7 598.8,377.5 C600.0,372.3 601.2,365.4 602.5,360.0 C603.8,354.6 605.0,350.0 606.2,345.0 C607.5,340.0 609.2,333.3 610.0,330.0 C610.8,326.7 610.4,329.2 611.2,325.0 C612.1,320.8 613.8,311.2 615.0,305.0 C616.2,298.8 617.5,292.1 618.8,287.5 C620.0,282.9 621.2,281.5 622.5,277.5 C623.8,273.5 625.2,266.8 626.2,263.8 C627.3,260.8 627.7,260.1 628.8,259.5 C629.8,258.9 631.5,258.7 632.5,260.0 C633.5,261.3 634.4,265.2 635.0,267.5 C635.6,269.8 635.6,270.0 636.2,273.8 C636.9,277.5 637.9,284.0 638.8,290.0 C639.6,296.0 640.5,304.4 641.2,310.0 C642.0,315.6 642.3,320.8 643.0,323.8 C643.7,326.7 644.7,324.0 645.5,327.5 C646.3,331.0 646.9,338.3 647.8,345.0 C648.6,351.7 649.5,361.2 650.5,367.5 C651.5,373.8 652.7,377.7 653.8,382.5 C654.8,387.3 656.0,392.5 657.0,396.2 C658.0,400.0 658.9,403.8 660.0,405.0 C661.1,406.2 662.7,405.0 663.8,403.8 C664.8,402.5 665.3,401.5 666.2,397.5 C667.2,393.5 668.5,386.2 669.5,380.0 C670.5,373.8 670.7,367.9 672.0,360.0 C673.3,352.1 676.0,340.0 677.5,332.5 C679.0,325.0 680.0,320.8 681.2,315.0 C682.5,309.2 683.8,303.3 685.0,297.5 C686.2,291.7 687.5,286.5 688.8,280.0 C690.0,273.5 691.2,265.2 692.5,258.8 C693.8,252.3 695.0,246.5 696.2,241.2 C697.5,236.0 698.8,231.5 700.0,227.5 C701.2,223.5 702.5,220.4 703.8,217.5 C705.0,214.6 706.5,211.5 707.5,210.0 C708.5,208.5 709.2,207.8 710.0,208.2 C710.8,208.7 711.8,210.1 712.5,212.5 C713.2,214.9 713.9,218.5 714.5,222.5 C715.1,226.5 715.8,232.7 716.2,236.2 C716.8,239.8 716.9,242.6 717.5,243.8 C718.1,244.9 719.2,242.2 720.0,243.0 C720.8,243.8 721.8,245.5 722.5,248.8 C723.2,252.0 723.9,258.1 724.5,262.5 C725.1,266.9 725.5,270.4 726.2,275.0 C727.0,279.6 727.9,285.6 728.8,290.0 C729.6,294.4 730.3,296.2 731.2,301.2 C732.2,306.2 733.5,316.8 734.5,320.0 C735.5,323.2 736.6,320.5 737.5,320.8 C738.4,321.0 739.2,322.0 740.0,321.2 C740.8,320.5 741.7,318.5 742.5,316.2 C743.3,314.0 744.0,311.5 745.0,307.5 C746.0,303.5 747.5,297.5 748.8,292.5 C750.0,287.5 751.5,282.5 752.5,277.5 C753.5,272.5 754.0,267.1 755.0,262.5 C756.0,257.9 757.5,254.6 758.8,250.0 C760.0,245.4 761.2,239.8 762.5,235.0 C763.8,230.2 765.2,224.4 766.2,221.2 C767.3,218.1 767.7,217.7 768.8,216.2 C769.8,214.8 771.2,214.4 772.5,212.5 C773.8,210.6 775.0,207.3 776.2,205.0 C777.5,202.7 778.8,200.1 780.0,198.8 C781.2,197.4 782.7,196.3 783.8,196.8 C784.8,197.2 785.5,198.6 786.2,201.2 C787.0,203.9 787.4,209.0 788.0,212.5 C788.6,216.0 789.2,219.4 790.0,222.5 C790.8,225.6 791.7,229.0 792.5,231.2 C793.3,233.5 794.2,233.1 795.0,236.2 C795.8,239.4 796.4,245.2 797.0,250.0 C797.6,254.8 798.2,260.8 798.8,265.0 C799.2,269.2 799.2,270.8 800.0,275.0 C800.8,279.2 802.5,285.4 803.8,290.0 C805.0,294.6 806.5,299.2 807.5,302.5 C808.5,305.8 809.2,308.1 810.0,310.0 C810.8,311.9 811.6,314.8 812.5,313.8 C813.4,312.7 814.6,305.3 815.5,303.8 C816.4,302.2 817.2,305.3 818.0,304.5 C818.8,303.7 819.0,301.6 820.0,298.8 C821.0,295.9 822.5,291.5 823.8,287.5 C825.0,283.5 826.5,279.2 827.5,275.0 C828.5,270.8 829.0,266.9 830.0,262.5 C831.0,258.1 832.5,253.3 833.8,248.8 C835.0,244.2 836.2,239.4 837.5,235.0 C838.8,230.6 840.2,225.5 841.2,222.5 C842.3,219.5 842.7,218.5 843.8,217.0 C844.8,215.5 846.0,214.9 847.5,213.8 C849.0,212.6 851.0,210.8 852.5,210.0 C854.0,209.2 855.3,208.5 856.2,208.8 C857.2,209.0 857.4,209.0 858.0,211.2 C858.6,213.5 859.2,218.5 860.0,222.5 C860.8,226.5 861.7,230.4 862.5,235.0 C863.3,239.6 864.2,245.4 865.0,250.0 C865.8,254.6 866.9,259.4 867.5,262.5 C868.1,265.6 868.1,265.4 868.8,268.8 C869.4,272.1 870.5,277.3 871.2,282.5 C872.0,287.7 872.4,294.2 873.0,300.0 C873.6,305.8 874.2,311.7 875.0,317.5 C875.8,323.3 876.9,329.9 877.5,335.0 C878.1,340.1 878.4,343.2 878.9,348.0 C879.4,352.8 880.0,361.0 880.2,363.6" fill="none" stroke="#0b3b50" stroke-width="2.7" stroke-linejoin="round" stroke-linecap="round"/>
<text x="677.5" y="170.5" text-anchor="middle" font-size="12" font-weight="bold" fill="#333">% Full Last 5 Years</text>
<text transform="translate(508,437.5) rotate(-45)" text-anchor="end" font-size="11.7" fill="#3a3a3a">Feb-2020</text>
<text transform="translate(582.5,437.5) rotate(-45)" text-anchor="end" font-size="11.7" fill="#3a3a3a">Feb-2021</text>
<text transform="translate(658,437.5) rotate(-45)" text-anchor="end" font-size="11.7" fill="#3a3a3a">Feb-2022</text>
<text transform="translate(733,437.5) rotate(-45)" text-anchor="end" font-size="11.7" fill="#3a3a3a">Feb-2023</text>
<text transform="translate(807.5,437.5) rotate(-45)" text-anchor="end" font-size="11.7" fill="#3a3a3a">Feb-2024</text>
<text transform="translate(882.5,437.5) rotate(-45)" text-anchor="end" font-size="11.7" fill="#3a3a3a">Feb-2025</text>
</svg>
</body></html>
